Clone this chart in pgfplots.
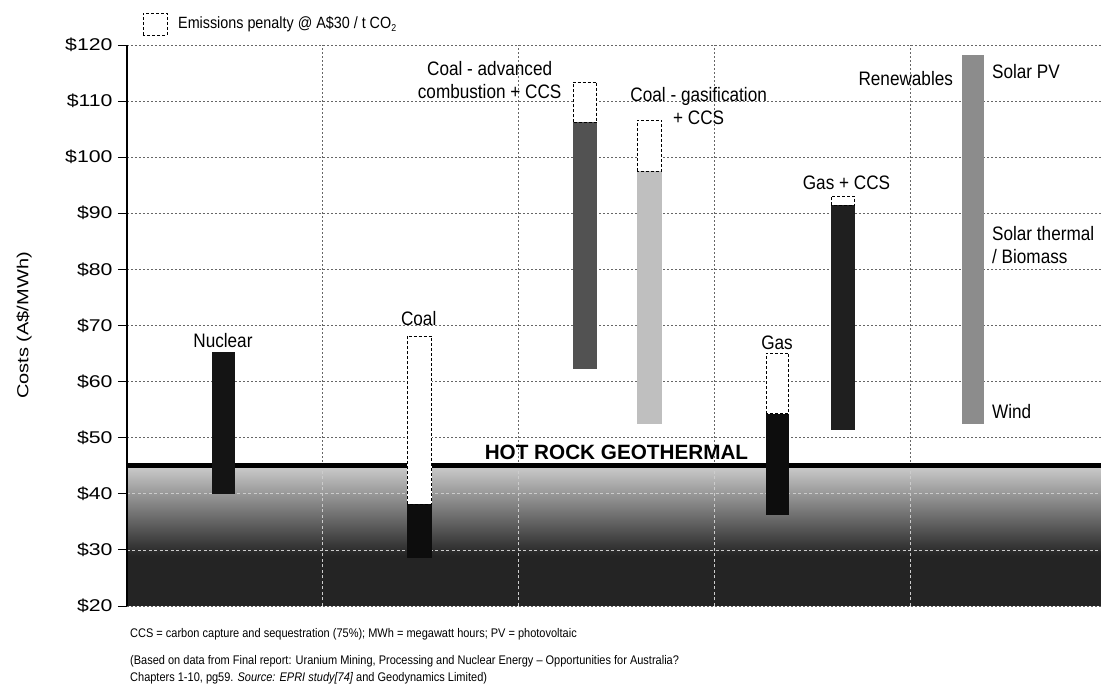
\documentclass[border=0pt]{standalone}
\usepackage{pgfplots}
\pgfplotsset{compat=1.18}
\usetikzlibrary{calc}
\usepackage{fontspec}
\setmainfont{Liberation Sans}[Ligatures=TeX]
\newfontfamily\wide[FakeStretch=1.25,Ligatures=TeX]{Liberation Sans}
\newfontfamily\cond[FakeStretch=0.88,Ligatures=TeX]{Liberation Sans}
\newcommand{\lab}{\cond\fontsize{19.5}{23}\selectfont}

\begin{document}
\begin{tikzpicture}
\begin{axis}[
  name=ax,
  width=974pt, height=561pt, scale only axis,
  xmin=0, xmax=4.975, ymin=20, ymax=120,
  clip=false,
  axis line style={draw=none},
  xtick={1,2,3,4}, xticklabels={}, x tick style={draw=none},
  ytick={20,30,...,120},
  yticklabels={\$20,\$30,\$40,\$50,\$60,\$70,\$80,\$90,\$100,\$110,\$120},
  yticklabel style={font=\wide\fontsize{17}{20}\selectfont, xshift=-2pt},
  ytick pos=left, tick align=outside, major tick length=9pt,
  y tick style={black, line width=0.9pt},
  grid=major,
  grid style={black!60, dash pattern=on 1.8pt off 2.2pt, line width=0.75pt},
  ylabel={},
]
% hot rock geothermal band
\addplot[draw=none, top color=black!20, bottom color=black!86]
  coordinates {(0,29) (0,45) (4.975,45) (4.975,29)} --cycle;
\addplot[draw=none, fill=black!86]
  coordinates {(0,20) (0,29) (4.975,29) (4.975,20)} --cycle;
\pgfplotsinvokeforeach{30,40}{
  \draw[white!80!black, dash pattern=on 3pt off 2.5pt, line width=0.7pt]
    (axis cs:0,#1) -- (axis cs:4.975,#1);
}
\pgfplotsinvokeforeach{1,2,3,4}{
  \draw[white!80!black, dash pattern=on 3pt off 2.5pt, line width=0.7pt]
    (axis cs:#1,20) -- (axis cs:#1,45);
}
\addplot[black, line width=5pt] coordinates {(0,45) (4.975,45)};

% Nuclear
\addplot[draw=none, fill=black!92] coordinates {(0.434,40) (0.434,65.3) (0.552,65.3) (0.552,40)} --cycle;
% Coal
\addplot[draw=none, fill=black!95] coordinates {(1.43,28.5) (1.43,38.1) (1.556,38.1) (1.556,28.5)} --cycle;
\addplot[black, fill=white, densely dashed, line width=0.9pt] coordinates {(1.43,38.1) (1.43,68.1) (1.556,68.1) (1.556,38.1)} --cycle;
% Coal - advanced combustion + CCS
\addplot[draw=none, fill=black!68] coordinates {(2.278,62.2) (2.278,106.2) (2.4,106.2) (2.4,62.2)} --cycle;
\addplot[black, fill=white, densely dashed, line width=0.9pt] coordinates {(2.278,106.2) (2.278,113.4) (2.4,113.4) (2.4,106.2)} --cycle;
% Coal - gasification + CCS
\addplot[draw=none, fill=black!25] coordinates {(2.605,52.4) (2.605,97.5) (2.732,97.5) (2.732,52.4)} --cycle;
\addplot[black, fill=white, densely dashed, line width=0.9pt] coordinates {(2.605,97.5) (2.605,106.6) (2.732,106.6) (2.732,97.5)} --cycle;
% Gas
\addplot[draw=none, fill=black!95] coordinates {(3.264,36.3) (3.264,54.3) (3.381,54.3) (3.381,36.3)} --cycle;
\addplot[black, fill=white, densely dashed, line width=0.9pt] coordinates {(3.264,54.3) (3.264,65.1) (3.381,65.1) (3.381,54.3)} --cycle;
% Gas + CCS
\addplot[draw=none, fill=black!88] coordinates {(3.596,51.3) (3.596,91.4) (3.718,91.4) (3.718,51.3)} --cycle;
\addplot[black, fill=white, densely dashed, line width=0.9pt] coordinates {(3.596,91.4) (3.596,93.0) (3.718,93.0) (3.718,91.4)} --cycle;
% Renewables
\addplot[draw=none, fill=black!45] coordinates {(4.265,52.4) (4.265,118.2) (4.377,118.2) (4.377,52.4)} --cycle;

% left axis line
\draw[black, line width=1.2pt] (rel axis cs:0,0) -- (rel axis cs:0,1);

% labels
\node[font=\lab] at (axis cs:0.49,67.4) {Nuclear};
\node[font=\lab] at (axis cs:1.49,71.3) {Coal};
\node[font=\lab, align=center, anchor=east, inner sep=0pt] at (axis cs:2.22,113.75) {Coal - advanced\\combustion + CCS};
\node[font=\lab, align=center, inner sep=0pt] at (axis cs:2.92,109.05) {Coal - gasification\\+ CCS};
\node[font=\lab] at (axis cs:3.32,66.9) {Gas};
\node[font=\lab] at (axis cs:3.675,95.5) {Gas + CCS};
\node[font=\lab, anchor=east, inner sep=0pt] at (axis cs:4.22,114.1) {Renewables};
\node[font=\lab, anchor=west, inner sep=0pt] at (axis cs:4.418,115.2) {Solar PV};
\node[font=\lab, anchor=west, align=left, inner sep=0pt] at (axis cs:4.418,84.3) {Solar thermal\\/ Biomass};
\node[font=\lab, anchor=west, inner sep=0pt] at (axis cs:4.418,54.7) {Wind};
\node[font=\bfseries\fontsize{20.7}{24}\selectfont, anchor=base, inner sep=0pt] at (axis cs:2.50,46.1) {HOT ROCK GEOTHERMAL};
\end{axis}

% y label
\node[font=\wide\fontsize{16}{19}\selectfont, rotate=90, anchor=center]
  at ($(ax.south west)!0.5!(ax.north west)+(-103pt,0)$) {Costs (A\$/MWh)};
% legend key
\draw[black, densely dashed, line width=0.9pt] ([xshift=16pt,yshift=10pt]ax.north west) rectangle ([xshift=40pt,yshift=32pt]ax.north west);
\node[font=\cond\fontsize{16.3}{19}\selectfont, anchor=west, inner sep=0pt]
  at ([xshift=51pt,yshift=21pt]ax.north west) {Emissions penalty @ A\$30 / t CO\raisebox{-0.45ex}{\fontsize{10}{12}\selectfont 2}};
% notes
\node[font=\cond\fontsize{12.5}{15}\selectfont, anchor=base west, inner sep=0pt]
  at ([xshift=3pt,yshift=-31.5pt]ax.south west) {CCS = carbon capture and sequestration (75\%); MWh = megawatt hours; PV = photovoltaic};
\node[font=\cond\fontsize{12.5}{15}\selectfont, anchor=base west, inner sep=0pt]
  at ([xshift=3pt,yshift=-58.5pt]ax.south west) {(Based on data from Final report: Uranium Mining, Processing and Nuclear Energy – Opportunities for Australia?};
\node[font=\cond\fontsize{12.5}{15}\selectfont, anchor=base west, inner sep=0pt]
  at ([xshift=3pt,yshift=-75.5pt]ax.south west) {Chapters 1-10, pg59. \textit{Source: EPRI study[74]} and Geodynamics Limited)};

\pgfresetboundingbox
\path[use as bounding box] ([xshift=-127pt,yshift=-92pt]ax.south west) rectangle ([yshift=45pt]ax.north east);
\end{tikzpicture}
\end{document}
